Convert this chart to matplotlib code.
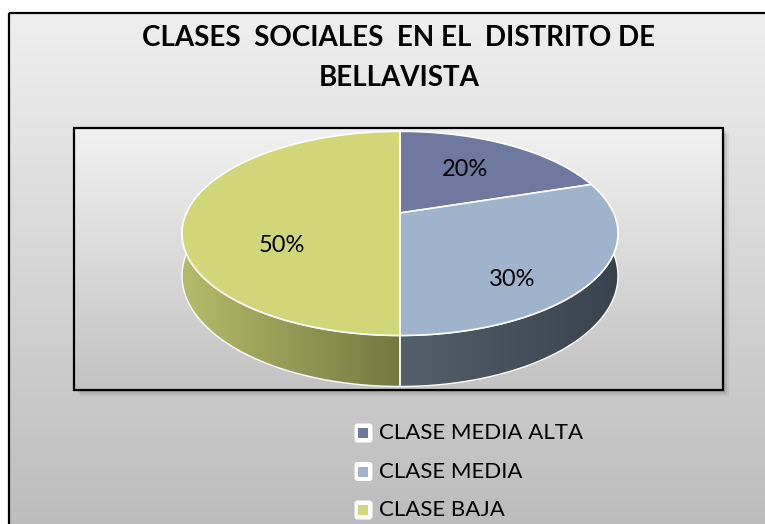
import numpy as np
import matplotlib.pyplot as plt
from matplotlib.patches import Polygon, Rectangle, FancyBboxPatch
from matplotlib.colors import LinearSegmentedColormap

# data
categories = ["CLASE MEDIA ALTA", "CLASE MEDIA", "CLASE BAJA"]
shares = [20, 30, 50]
pct_labels = ["20%", "30%", "50%"]
title_lines = ["CLASES  SOCIALES  EN EL  DISTRITO DE", "BELLAVISTA"]

# colours (top face, side light -> side dark)
top_colors = ["#6f79a0", "#9fb4cc", "#d1d779"]
side_colors = [("#5a6283", "#454c69"), ("#535f6b", "#3a434d"), ("#b6bb6b", "#747840")]

plt.rcParams['font.family'] = ['Lato', 'DejaVu Sans']

fig = plt.figure(figsize=(7.65, 5.24), dpi=100)
ax = fig.add_axes([0, 0, 1, 1])

W, H = 765, 524

def vgrad(c0, c1):
    return LinearSegmentedColormap.from_list("g", [c0, c1])

grad_v = np.linspace(0, 1, 256)[:, None]
grad_h = np.linspace(0, 1, 256)[None, :]

# outer chart area
ax.imshow(grad_v, extent=(9, W + 5, H + 5, 13), cmap=vgrad("#efefef", "#bcbcbc"),
          aspect='auto', zorder=0)
ax.add_patch(Rectangle((9, 13), W, H, fill=False, ec="black", lw=1.6, zorder=1))

# plot area with a soft shadow
px0, py0, px1, py1 = 74, 128, 723, 390
for k, a in zip([6, 4, 2], [0.05, 0.07, 0.09]):
    ax.add_patch(Rectangle((px0 + k, py0 + k), px1 - px0, py1 - py0,
                           fc="black", ec="none", alpha=a, zorder=1))
ax.imshow(grad_v, extent=(px0, px1, py1, py0), cmap=vgrad("#f1f1f1", "#c2c2c2"),
          aspect='auto', zorder=2)
ax.add_patch(Rectangle((px0, py0), px1 - px0, py1 - py0, fill=False, ec="black",
                       lw=1.6, zorder=3))

# 3d pie geometry (simple perspective of a tilted disc)
cx, cy = 400, 213     # vertex of the pie
sx, sk = 213.6, 98.0  # horizontal / vertical scale
persp = 0.2
drop = 40.8           # thickness

def proj(theta, r=1.0, dz=0.0):
    t = np.radians(theta)
    X = r * np.sin(t)
    Z = r * np.cos(t)
    w = 1 + persp * Z
    return cx + sx * X / w, cy - sk * Z / w + dz / w

total = float(sum(shares))
edges = np.concatenate([[0], np.cumsum(shares)]) / total * 360

# side walls (only the front half is visible)
for i in range(len(shares)):
    a0 = max(edges[i], 90)
    a1 = min(edges[i + 1], 270)
    if a1 <= a0:
        continue
    th = np.linspace(a0, a1, 120)
    xt, yt = proj(th)
    xb, yb = proj(th, dz=drop)
    pts = np.column_stack([np.concatenate([xt, xb[::-1]]),
                           np.concatenate([yt, yb[::-1]])])
    poly = Polygon(pts, closed=True, fc="none", ec="white", lw=1.0, zorder=6)
    ax.add_patch(poly)
    im = ax.imshow(grad_h, extent=(pts[:, 0].min(), pts[:, 0].max(),
                                   pts[:, 1].max(), pts[:, 1].min()),
                   cmap=vgrad(*side_colors[i]), aspect='auto', zorder=5)
    im.set_clip_path(poly)

# top faces
for i in range(len(shares)):
    th = np.linspace(edges[i], edges[i + 1], 200)
    xs, ys = proj(th)
    pts = np.column_stack([np.concatenate([[cx], xs]), np.concatenate([[cy], ys])])
    ax.add_patch(Polygon(pts, closed=True, fc=top_colors[i], ec="white", lw=1.2,
                         zorder=7))

# data labels
label_r = 0.6
label_dx = [-4, 1, 10]
label_dy = [0, 29, 32]
for i in range(len(shares)):
    mid = (edges[i] + edges[i + 1]) / 2
    lx, ly = proj(mid, r=label_r)
    ax.text(lx + label_dx[i], ly + label_dy[i], pct_labels[i], fontsize=17,
            color="black", ha="center", va="center", zorder=8)

# title
ax.text(399, 38, title_lines[0], fontsize=20, fontweight="bold", ha="center",
        va="center", zorder=8)
ax.text(399, 77.5, title_lines[1], fontsize=20, fontweight="bold", ha="center",
        va="center", zorder=8)

# legend
for i, name in enumerate(categories):
    ly = 433 + 38.5 * i
    ax.add_patch(FancyBboxPatch((356, ly - 8), 15, 16,
                                boxstyle="round,pad=1.5,rounding_size=3",
                                fc="white", ec="none", zorder=8))
    ax.add_patch(Rectangle((358.5, ly - 5), 10, 10, fc=top_colors[i], ec="none",
                           zorder=9))
    ax.text(379, ly, name, fontsize=16, ha="left", va="center", zorder=9)

ax.set_xlim(0, W)
ax.set_ylim(H, 0)
ax.axis('off')

fig.savefig("out.png", dpi=100)
